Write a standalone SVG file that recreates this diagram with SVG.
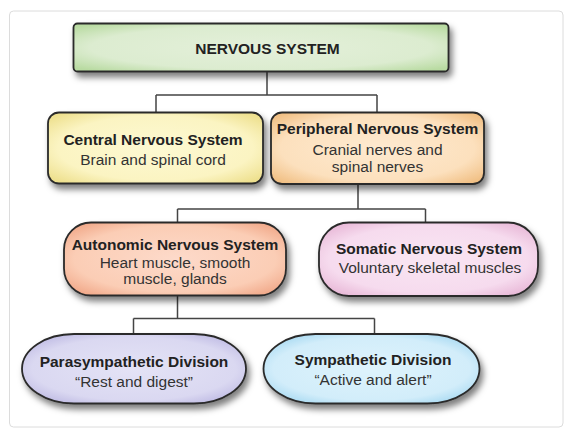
<svg xmlns="http://www.w3.org/2000/svg" width="577" height="440" viewBox="0 0 577 440">
<defs>
<filter id="sh" x="-10%" y="-20%" width="125%" height="150%">
<feDropShadow dx="3" dy="5" stdDeviation="3" flood-color="#000" flood-opacity="0.5"/>
</filter>
<radialGradient id="gGreen" cx="50%" cy="50%" r="65%"><stop offset="0" stop-color="#e4f0da"/><stop offset="0.7" stop-color="#dcecd0"/><stop offset="1" stop-color="#b9dba2"/></radialGradient>
<radialGradient id="gYellow" cx="50%" cy="50%" r="65%"><stop offset="0" stop-color="#fdf9d2"/><stop offset="0.7" stop-color="#fbf4c2"/><stop offset="1" stop-color="#eee08e"/></radialGradient>
<radialGradient id="gPeach" cx="50%" cy="50%" r="65%"><stop offset="0" stop-color="#feead0"/><stop offset="0.7" stop-color="#fce0bd"/><stop offset="1" stop-color="#f1c085"/></radialGradient>
<radialGradient id="gSalmon" cx="50%" cy="50%" r="65%"><stop offset="0" stop-color="#fddaca"/><stop offset="0.7" stop-color="#fbcdb5"/><stop offset="1" stop-color="#f0a585"/></radialGradient>
<radialGradient id="gPink" cx="50%" cy="50%" r="65%"><stop offset="0" stop-color="#f9e6f3"/><stop offset="0.7" stop-color="#f6dbee"/><stop offset="1" stop-color="#e6b3d4"/></radialGradient>
<radialGradient id="gLav" cx="50%" cy="50%" r="65%"><stop offset="0" stop-color="#e4e3f6"/><stop offset="0.7" stop-color="#dad8f1"/><stop offset="1" stop-color="#b6b1df"/></radialGradient>
<radialGradient id="gBlue" cx="50%" cy="50%" r="65%"><stop offset="0" stop-color="#def3fc"/><stop offset="0.7" stop-color="#d2edfa"/><stop offset="1" stop-color="#9ad3ef"/></radialGradient>
</defs>
<style>
.box{stroke:#2a2a2a;stroke-width:1.8;filter:url(#sh)}
.t{font-family:"Liberation Sans",Arial,sans-serif;font-size:15.5px;font-weight:bold;fill:#222;text-anchor:middle}
.s{font-family:"Liberation Sans",Arial,sans-serif;font-size:15.5px;fill:#333;text-anchor:middle}
.conn{fill:none;stroke:#444;stroke-width:1.5}
</style>
<rect x="0" y="0" width="577" height="440" fill="#fff"/>
<rect x="9.5" y="11" width="553.5" height="416" rx="4" fill="#fff" stroke="#dcdcdc" stroke-width="1"/>
<g id="connectors" class="conn">
<path d="M267 72 V95 M156 95 H377 M156 95 V112.5 M377 95 V112.5"/>
<path d="M358 184 V209 M177.5 209 H425.5 M177.5 209 V222.5 M425.5 209 V222.5"/>
<path d="M177.5 295.5 V318.5 M133.5 318.5 H374.5 M133.5 318.5 V334 M374.5 318.5 V334"/>
</g>
<g id="nervous-system">
<rect class="box" x="73.5" y="23.5" width="375" height="48" rx="4" fill="url(#gGreen)"/>
<text class="t" x="267.5" y="54">NERVOUS SYSTEM</text>
</g>
<g id="central">
<rect class="box" x="48" y="112.5" width="215" height="71" rx="11" fill="url(#gYellow)"/>
<text class="t" x="153" y="144.5">Central Nervous System</text>
<text class="s" x="153" y="165">Brain and spinal cord</text>
</g>
<g id="peripheral">
<rect class="box" x="271" y="112.5" width="213" height="71.5" rx="11" fill="url(#gPeach)"/>
<text class="t" x="377.5" y="133.5">Peripheral Nervous System</text>
<text class="s" x="377.5" y="154.5">Cranial nerves and</text>
<text class="s" x="377.5" y="171.5">spinal nerves</text>
</g>
<g id="autonomic">
<rect class="box" x="64" y="222.5" width="222" height="73" rx="27" fill="url(#gSalmon)"/>
<text class="t" x="175" y="250">Autonomic Nervous System</text>
<text class="s" x="175" y="267.5">Heart muscle, smooth</text>
<text class="s" x="175" y="284">muscle, glands</text>
</g>
<g id="somatic">
<rect class="box" x="319" y="222.5" width="219" height="73.5" rx="30" fill="url(#gPink)"/>
<text class="t" x="429" y="254">Somatic Nervous System</text>
<text class="s" x="430" y="272.5">Voluntary skeletal muscles</text>
</g>
<g id="parasympathetic">
<rect class="box" x="22" y="334" width="224" height="69.5" rx="52" ry="34.75" fill="url(#gLav)"/>
<text class="t" x="134" y="367">Parasympathetic Division</text>
<text class="s" x="134" y="387">“Rest and digest”</text>
</g>
<g id="sympathetic">
<rect class="box" x="263.5" y="334" width="216" height="69.5" rx="52" ry="34.75" fill="url(#gBlue)"/>
<text class="t" x="373" y="364.5">Sympathetic Division</text>
<text class="s" x="373" y="384.5">“Active and alert”</text>
</g>
</svg>
